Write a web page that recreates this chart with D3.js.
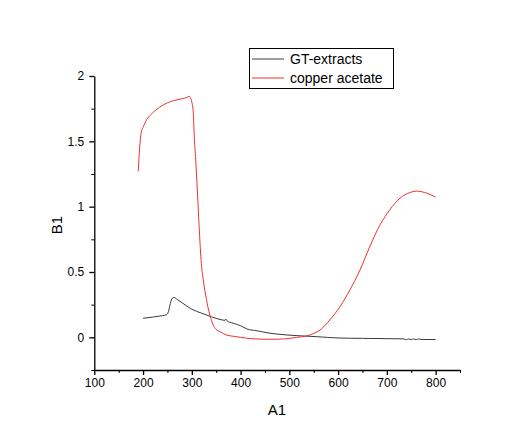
<!DOCTYPE html>
<html><head><meta charset="utf-8">
<script src="https://cdn.jsdelivr.net/npm/d3@7"></script>
<style>body{margin:0;background:#fff}svg{display:block}text{font-family:"Liberation Sans",Arial,sans-serif}</style>
</head><body>
<svg id="c" width="525" height="427"></svg>
<script>
const seriesNames = ["GT-extracts", "copper acetate"];
const seriesColors = ["#3a3a3a", "#f03030"];
const gtX = [200,220,240,248,252,256,260,264,270,280,300,320,340,360,368,370,372,385,400,413,434,454,475,495,520,556,600,650,700,735,740,745,750,755,760,765,770,800];
const gtY = [0.146,0.155,0.166,0.172,0.196,0.26,0.300,0.305,0.29,0.265,0.215,0.185,0.158,0.135,0.13,0.14,0.127,0.108,0.089,0.064,0.05,0.035,0.025,0.018,0.012,0.005,-0.005,-0.008,-0.01,-0.012,-0.018,-0.012,-0.018,-0.012,-0.018,-0.012,-0.016,-0.017];
const cuX = [190,193,196,201,208,215,228,240,250,260,270,280,290,294,297,300,303,305,308,311,315,319,323.5,330,337,344,350,358,371,385,400,420,460,490,515,535,550,563,583,604,624,645,665,686,706,727,747,761,782,800];
const cuY = [1.27,1.45,1.56,1.615,1.67,1.70,1.745,1.775,1.795,1.808,1.818,1.826,1.836,1.845,1.835,1.80,1.72,1.54,1.36,1.15,0.85,0.59,0.44,0.29,0.17,0.094,0.06,0.043,0.018,0.008,0.0,-0.01,-0.015,-0.012,0.0,0.01,0.03,0.056,0.133,0.235,0.362,0.516,0.694,0.861,0.976,1.065,1.108,1.119,1.103,1.073];
const xTicks = [100,200,300,400,500,600,700,800];
const yTicks = [0,0.5,1,1.5,2];
const xLabel = "A1", yLabel = "B1";

const svg = d3.select("#c");
const x = d3.scaleLinear().domain([100,850]).range([94.3,460]);
const y = d3.scaleLinear().domain([-0.25,2]).range([370,76]);

const xMinor = d3.range(150,851,100);
const yMinor = [-0.25,0.25,0.75,1.25,1.75];
svg.append("g").attr("transform","translate(0,370)")
  .call(d3.axisBottom(x).tickValues(xMinor).tickSize(3).tickFormat(""))
  .call(g=>g.select(".domain").remove());
svg.append("g").attr("transform","translate(94.3,0)")
  .call(d3.axisLeft(y).tickValues(yMinor).tickSize(3).tickFormat(""))
  .call(g=>g.select(".domain").remove());

const xa = svg.append("g").attr("transform","translate(0,370)")
  .call(d3.axisBottom(x).tickValues(xTicks).tickSize(5).tickSizeOuter(0).tickPadding(3).tickFormat(d3.format("d")));
const ya = svg.append("g").attr("transform","translate(94.3,0)")
  .call(d3.axisLeft(y).tickValues(yTicks).tickSize(5).tickSizeOuter(0).tickPadding(5).tickFormat(d=>String(d)));
[xa,ya].forEach(g=>{
  g.selectAll("text").attr("font-size",12).attr("fill","#000").attr("font-family","Liberation Sans, Arial, sans-serif");
  g.selectAll("line,path").attr("stroke","#000").attr("stroke-width",1.3);
});
svg.selectAll(".tick line").attr("stroke","#000");

svg.append("text").attr("x",277).attr("y",415).attr("text-anchor","middle").attr("font-size",15).text(xLabel);
svg.append("text").attr("transform","translate(62,225) rotate(-90)").attr("text-anchor","middle").attr("font-size",15).text(yLabel);

const line = d3.line().x(d=>x(d[0])).y(d=>y(d[1])).curve(d3.curveMonotoneX);
const gtData = gtX.map((v,i)=>[v,gtY[i]]);
const cuData = cuX.map((v,i)=>[v,cuY[i]]);
svg.append("path").datum(gtData).attr("d",line).attr("fill","none").attr("stroke",seriesColors[0]).attr("stroke-width",1);
svg.append("path").datum(cuData).attr("d",line).attr("fill","none").attr("stroke",seriesColors[1]).attr("stroke-width",1);

const lg = svg.append("g");
lg.append("rect").attr("x",249.5).attr("y",48.5).attr("width",144).attr("height",40).attr("fill","#fff").attr("stroke","#000").attr("stroke-width",1);
seriesNames.forEach((n,i)=>{
  const yy = 59 + i*19;
  lg.append("line").attr("x1",252).attr("x2",284).attr("y1",yy).attr("y2",yy).attr("stroke",seriesColors[i]).attr("stroke-width",1);
  lg.append("text").attr("x",290).attr("y",yy+5).attr("font-size",14).text(n);
});
</script>
</body></html>
